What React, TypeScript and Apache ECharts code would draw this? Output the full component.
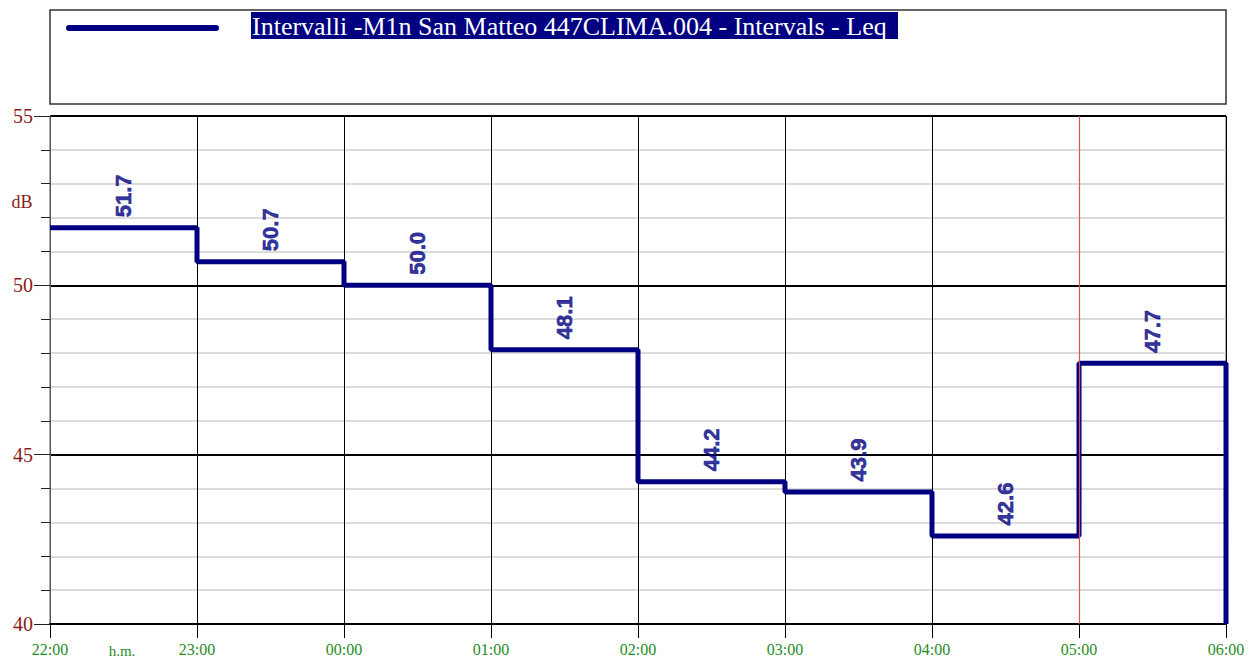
import React, { useEffect, useRef } from "react";
import * as echarts from "echarts";

const hourLabels = ["22:00", "23:00", "00:00", "01:00", "02:00", "03:00", "04:00", "05:00", "06:00"];
const leqValues = [51.7, 50.7, 50.0, 48.1, 44.2, 43.9, 42.6, 47.7];
const yMin = 40;
const yMax = 55;
const cursorHour = 7;
const legendText = "Intervalli -M1n San Matteo 447CLIMA.004 - Intervals - Leq";

export default function App() {
  const ref = useRef<HTMLDivElement>(null);
  useEffect(() => {
    if (!ref.current) return;
    const chart = echarts.init(ref.current, null, { renderer: "svg" });
    const stepData: number[][] = leqValues.map((v, i) => [i, v]);
    stepData.push([leqValues.length, yMin]);
    const labelData = leqValues.map((v, i) => [i + 0.5, v]);
    const navy = "#000080";
    const serif = "'Liberation Serif', 'Times New Roman', serif";
    chart.setOption({
      animation: false,
      backgroundColor: "#ffffff",
      grid: {
        left: 50,
        right: 29,
        top: 116,
        bottom: 36,
        show: true,
        borderColor: "#555",
        borderWidth: 1,
        backgroundColor: "transparent",
      },
      xAxis: {
        type: "value",
        min: 0,
        max: hourLabels.length - 1,
        interval: 1,
        axisLine: { show: true, onZero: false, lineStyle: { color: "#000", width: 2 } },
        axisTick: { show: true, length: 14, lineStyle: { color: "#000", width: 1 } },
        axisLabel: {
          color: "#1f8c1f",
          fontFamily: serif,
          fontSize: 16,
          margin: 17,
          showMinLabel: true,
          showMaxLabel: true,
          formatter: (v: number) => hourLabels[Math.round(v)] ?? "",
        },
        splitLine: { show: true, lineStyle: { color: "#000", width: 1 } },
      },
      yAxis: {
        type: "value",
        min: yMin,
        max: yMax,
        interval: 5,
        axisLine: { show: true, lineStyle: { color: "#555", width: 1 } },
        axisTick: { show: true, length: 16, lineStyle: { color: "#222", width: 1 } },
        minorTick: { show: true, splitNumber: 5, length: 9, lineStyle: { color: "#222", width: 1 } },
        minorSplitLine: { show: true, lineStyle: { color: "#cfcfcf", width: 1.5 } },
        splitLine: { show: true, lineStyle: { color: "#000", width: 2 } },
        axisLabel: {
          color: "#8b1a1a",
          fontFamily: serif,
          fontSize: 20,
          margin: 17,
        },
      },
      graphic: [
        {
          type: "rect",
          shape: { x: 50, y: 10, width: 1176, height: 94 },
          style: { fill: "none", stroke: "#333", lineWidth: 1.5 },
        },
        {
          type: "line",
          shape: { x1: 69, y1: 28, x2: 216, y2: 28 },
          style: { stroke: navy, lineWidth: 6, lineCap: "round" },
        },
        {
          type: "rect",
          shape: { x: 251, y: 12, width: 647, height: 27 },
          style: { fill: navy },
        },
        {
          type: "text",
          x: 252,
          y: 26,
          style: {
            text: legendText,
            fill: "#ffffff",
            font: "26px 'Liberation Serif', serif",
            verticalAlign: "middle",
            align: "left",
          },
        },
        {
          type: "text",
          x: 22,
          y: 202,
          style: {
            text: "dB",
            fill: "#8b1a1a",
            font: "18px 'Liberation Serif', serif",
            align: "center",
            verticalAlign: "middle",
          },
        },
        {
          type: "text",
          x: 122,
          y: 651,
          style: {
            text: "h.m.",
            fill: "#1f8c1f",
            font: "15px 'Liberation Serif', serif",
            align: "center",
            verticalAlign: "middle",
          },
        },
      ],
      series: [
        {
          type: "line",
          step: "end",
          data: stepData,
          symbol: "none",
          lineStyle: { color: navy, width: 5 },
          z: 3,
        },
        {
          type: "scatter",
          data: labelData,
          symbolSize: 1,
          itemStyle: { color: "transparent" },
          label: {
            show: true,
            position: "top",
            distance: 10,
            rotate: 90,
            align: "left",
            verticalAlign: "middle",
            color: navy,
            textBorderColor: navy,
            textBorderWidth: 0.6,
            fontFamily: "'Liberation Sans', Arial, sans-serif",
            fontWeight: "bold",
            fontSize: 22,
            formatter: (p: any) => Number(p.value[1]).toFixed(1),
          },
          markLine: {
            silent: true,
            symbol: "none",
            label: { show: false },
            lineStyle: { color: "#e05050", width: 1.2, type: "solid" },
            data: [{ xAxis: cursorHour }],
          },
          z: 4,
        },
      ],
    });
    return () => chart.dispose();
  }, []);
  return (
    <div
      ref={ref}
      style={{ position: "absolute", left: 0, top: 0, width: 1255, height: 660 }}
    />
  );
}
